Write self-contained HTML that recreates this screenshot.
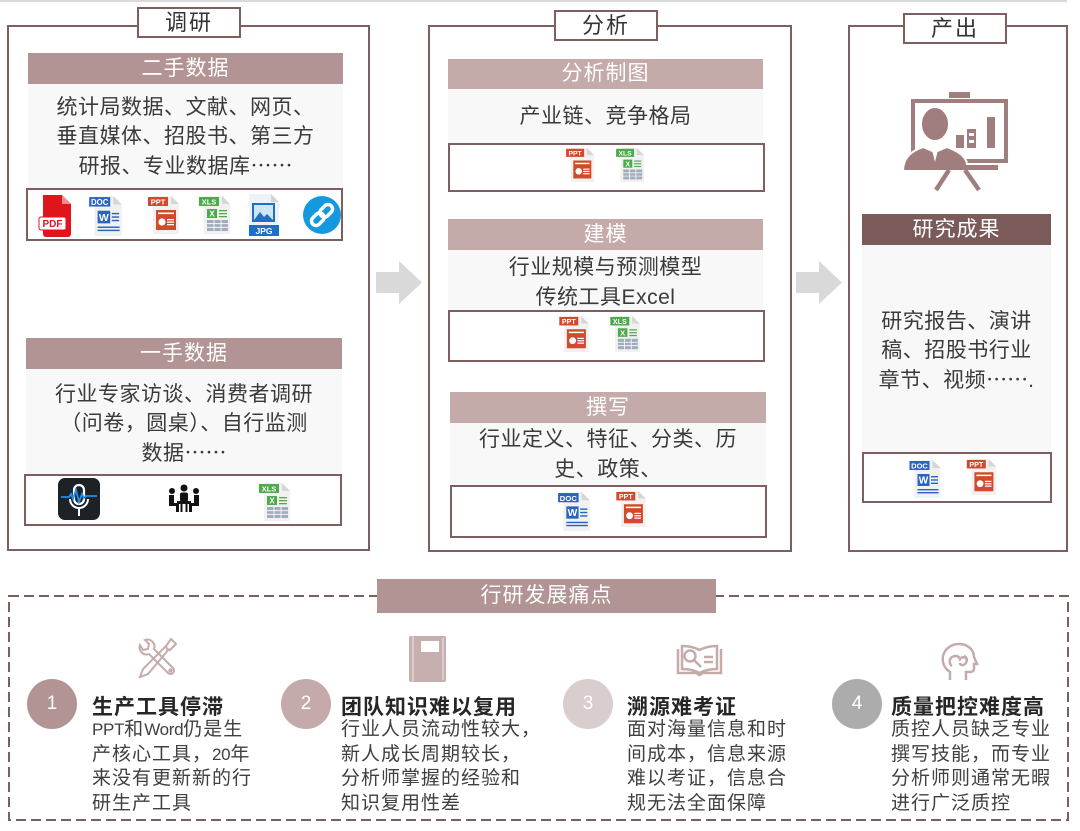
<!DOCTYPE html>
<html><head><meta charset="utf-8">
<style>
*{margin:0;padding:0;box-sizing:border-box}
body{width:1080px;height:831px;background:#fff;position:relative;overflow:hidden;font-family:"Liberation Sans","Noto Sans CJK SC",sans-serif;color:#3c3c3c}
.panel{position:absolute;border:2px solid #7d5f5f;background:#fff}
.tab{position:absolute;border:2px solid #7d5f5f;background:#fff;text-align:center;font-size:22px;color:#333;letter-spacing:2px}
.hd{position:absolute;color:#fff;text-align:center;font-size:21px;letter-spacing:1px}
.tx{position:absolute;background:#f8f8f8;text-align:center;font-size:21px;line-height:29px;color:#3a3a3a;letter-spacing:0.5px}
.ib{position:absolute;border:2px solid #7d5f5f;background:#fff}
.ic{position:absolute}
.ttl{position:absolute;font-size:21px;font-weight:bold;color:#262626;line-height:26px;letter-spacing:1px;white-space:nowrap}
.bd{position:absolute;font-size:19px;line-height:24.7px;color:#404040;letter-spacing:1px;white-space:nowrap}
.la{letter-spacing:-0.3px;font-size:17px}
.el{font-family:"Noto Sans CJK SC",sans-serif;letter-spacing:0}
.num{position:absolute;width:50px;height:50px;border-radius:50%;color:#fff;font-size:19px;text-align:center;line-height:50px}
</style></head><body>

<div style="position:absolute;left:0;top:0;width:1067px;height:2px;background:#dadada"></div>

<!-- Panel 1 -->
<div class="panel" style="left:7px;top:25px;width:363px;height:526px"></div>
<div class="tab" style="left:137px;top:7px;width:104px;height:31px;line-height:27px">调研</div>
<div class="hd" style="left:28px;top:53px;width:315px;height:31px;line-height:31px;background:#b39494">二手数据</div>
<div class="tx" style="left:28px;top:84px;width:315px;height:104px;padding-top:9px">统计局数据、文献、网页、<br>垂直媒体、招股书、第三方<br>研报、专业数据库<span class="el">……</span></div>
<div class="ib" style="left:26px;top:188px;width:317px;height:53px"></div>
<!-- PDF -->
<svg class="ic" style="left:38px;top:193px" width="36" height="44" viewBox="0 0 36 44"><path d="M5 2h19l9 9v30a3 3 0 0 1-3 3H8a3 3 0 0 1-3-3z" fill="#e0141b"/><path d="M24 2v9h9z" fill="#f58a8d"/><rect x="1" y="24" width="27" height="13" rx="2" fill="#fff" stroke="#e0141b" stroke-width="1"/><text x="14.5" y="34.2" font-size="10" font-weight="bold" fill="#e0141b" text-anchor="middle" font-family="Liberation Sans">PDF</text></svg>
<!-- DOC -->
<svg class="ic" style="left:88px;top:195px" width="36" height="42" viewBox="0 0 34 40"><path d="M6 1h18l8 8v30H6z" fill="#f1f1f1"/><path d="M24 1v8h8z" fill="#d6d6d6"/><rect x="1" y="2" width="20" height="9" fill="#2b63c0"/><text x="11" y="9.6" font-size="7.5" font-weight="bold" fill="#fff" text-anchor="middle" font-family="Liberation Sans">DOC</text><rect x="9" y="15" width="12" height="12" fill="#2b63c0"/><text x="15" y="24.6" font-size="10" font-weight="bold" fill="#fff" text-anchor="middle" font-family="Liberation Sans">W</text><rect x="22.5" y="17" width="7" height="1.4" fill="#2b63c0"/><rect x="22.5" y="20.3" width="7" height="1.4" fill="#2b63c0"/><rect x="22.5" y="23.6" width="7" height="1.4" fill="#2b63c0"/><rect x="9" y="30" width="21" height="1.4" fill="#2b63c0"/><rect x="9" y="33" width="21" height="1.4" fill="#2b63c0"/></svg>
<!-- PPT -->
<svg class="ic" style="left:147px;top:195px" width="34" height="40" viewBox="0 0 34 40"><path d="M6 1h18l8 8v30H6z" fill="#f1f1f1"/><path d="M24 1v8h8z" fill="#d6d6d6"/><rect x="1" y="2" width="20" height="9" fill="#d04a2b"/><text x="11" y="9.6" font-size="7.5" font-weight="bold" fill="#fff" text-anchor="middle" font-family="Liberation Sans">PPT</text><rect x="9" y="15" width="20" height="20" fill="#d04a2b"/><rect x="11" y="17.5" width="16" height="1.6" fill="#fff"/><circle cx="15" cy="27" r="3.6" fill="#fff"/><rect x="20" y="24" width="7" height="1.3" fill="#fff"/><rect x="20" y="26.5" width="7" height="1.3" fill="#fff"/><rect x="20" y="29" width="7" height="1.3" fill="#fff"/></svg>
<!-- XLS -->
<svg class="ic" style="left:198px;top:195px" width="34" height="40" viewBox="0 0 34 40"><path d="M6 1h18l8 8v30H6z" fill="#f1f1f1"/><path d="M24 1v8h8z" fill="#d6d6d6"/><rect x="1" y="2" width="20" height="9" fill="#4eaa4a"/><text x="11" y="9.6" font-size="7.5" font-weight="bold" fill="#fff" text-anchor="middle" font-family="Liberation Sans">XLS</text><rect x="9" y="14" width="10" height="9" fill="#4eaa4a"/><text x="14" y="21.5" font-size="8" font-weight="bold" fill="#fff" text-anchor="middle" font-family="Liberation Sans">X</text><rect x="21" y="15" width="8" height="1.3" fill="#4eaa4a"/><rect x="21" y="18" width="8" height="1.3" fill="#4eaa4a"/><rect x="21" y="21" width="8" height="1.3" fill="#4eaa4a"/><rect x="9" y="25" width="21" height="11" fill="#a3acbd"/><path d="M9 28.7h21M9 32.3h21M16 25v11M23 25v11" stroke="#fff" stroke-width="0.8"/></svg>
<!-- JPG -->
<svg class="ic" style="left:248px;top:193px" width="32" height="44" viewBox="0 0 32 44"><path d="M1 1h22l8 8v34H1z" fill="#eef1f5"/><path d="M23 1v8h8z" fill="#d0d5dc"/><rect x="4" y="10" width="23" height="19" fill="#1f6fc5"/><rect x="6" y="12" width="19" height="15" fill="#cfe6f7"/><path d="M6 27l6-8 4 5 3-3 6 6z" fill="#1f6fc5"/><rect x="1" y="32" width="30" height="11" fill="#1f6fc5"/><text x="16" y="41" font-size="8.5" font-weight="bold" fill="#fff" text-anchor="middle" font-family="Liberation Sans">JPG</text></svg>
<!-- link -->
<svg class="ic" style="left:302px;top:195px" width="40" height="40" viewBox="0 0 40 40"><circle cx="20" cy="20" r="19" fill="#1499df"/><g transform="rotate(-45 20 20)" fill="none" stroke="#fff" stroke-width="3.5"><rect x="7" y="15.5" width="14" height="9" rx="4.5"/><rect x="19" y="15.5" width="14" height="9" rx="4.5"/></g></svg>

<div class="hd" style="left:26px;top:338px;width:316px;height:31px;line-height:31px;background:#b39494">一手数据</div>
<div class="tx" style="left:26px;top:369px;width:316px;height:105px;padding-top:11px">行业专家访谈、消费者调研<br>（问卷，圆桌）、自行监测<br>数据<span class="el">……</span></div>
<div class="ib" style="left:24px;top:474px;width:318px;height:52px"></div>
<!-- mic -->
<svg class="ic" style="left:58px;top:478px" width="42" height="42" viewBox="0 0 42 42"><rect width="42" height="42" rx="7" fill="#1e2227"/><rect x="16" y="7" width="10" height="19" rx="5" fill="none" stroke="#fff" stroke-width="2.2"/><path d="M12 21a9 9 0 0 0 18 0" fill="none" stroke="#fff" stroke-width="2"/><path d="M21 30v8" stroke="#fff" stroke-width="2"/><path d="M3 19h8l2-3 2 5 3-9 3 12 3-8 2 4 2-2h11" fill="none" stroke="#1f8ff0" stroke-width="1.8"/></svg>
<!-- people -->
<svg class="ic" style="left:168px;top:484px" width="32" height="28" viewBox="0 0 32 28" fill="#111"><circle cx="16" cy="4" r="3.5"/><rect x="12" y="8.5" width="8" height="9" rx="2"/><circle cx="4" cy="7" r="3"/><circle cx="28" cy="7" r="3"/><path d="M1 11h5v8h5v9H8v-6H1z"/><path d="M31 11h-5v8h-5v9h3v-6h7z"/><rect x="9" y="17" width="14" height="3"/><rect x="12.5" y="20" width="2" height="8"/><rect x="17.5" y="20" width="2" height="8"/></svg>
<!-- XLS -->
<svg class="ic" style="left:258px;top:482px" width="34" height="40" viewBox="0 0 34 40"><path d="M6 1h18l8 8v30H6z" fill="#f1f1f1"/><path d="M24 1v8h8z" fill="#d6d6d6"/><rect x="1" y="2" width="20" height="9" fill="#4eaa4a"/><text x="11" y="9.6" font-size="7.5" font-weight="bold" fill="#fff" text-anchor="middle" font-family="Liberation Sans">XLS</text><rect x="9" y="14" width="10" height="9" fill="#4eaa4a"/><text x="14" y="21.5" font-size="8" font-weight="bold" fill="#fff" text-anchor="middle" font-family="Liberation Sans">X</text><rect x="21" y="15" width="8" height="1.3" fill="#4eaa4a"/><rect x="21" y="18" width="8" height="1.3" fill="#4eaa4a"/><rect x="21" y="21" width="8" height="1.3" fill="#4eaa4a"/><rect x="9" y="25" width="21" height="11" fill="#a3acbd"/><path d="M9 28.7h21M9 32.3h21M16 25v11M23 25v11" stroke="#fff" stroke-width="0.8"/></svg>

<!-- arrows -->
<svg class="ic" style="left:370px;top:255px" width="60" height="56" viewBox="370 255 60 56"><polygon points="376,272 399,272 399,261 422,282.5 399,304 399,293 376,293" fill="#d9d9d9"/></svg>
<svg class="ic" style="left:790px;top:255px" width="60" height="56" viewBox="790 255 60 56"><polygon points="796,272 819,272 819,261 842,282.5 819,304 819,293 796,293" fill="#d9d9d9"/></svg>

<!-- Panel 2 -->
<div class="panel" style="left:428px;top:25px;width:364px;height:527px"></div>
<div class="tab" style="left:554px;top:10px;width:104px;height:31px;line-height:27px">分析</div>
<div class="hd" style="left:448px;top:59px;width:315px;height:30px;line-height:30px;background:#c5aaaa">分析制图</div>
<div class="tx" style="left:448px;top:89px;width:315px;height:54px;padding-top:13px">产业链、竞争格局</div>
<div class="ib" style="left:448px;top:143px;width:317px;height:49px"></div>
<svg class="ic" style="left:565px;top:147px" width="31" height="36" viewBox="0 0 34 40"><path d="M6 1h18l8 8v30H6z" fill="#f1f1f1"/><path d="M24 1v8h8z" fill="#d6d6d6"/><rect x="1" y="2" width="20" height="9" fill="#d04a2b"/><text x="11" y="9.6" font-size="7.5" font-weight="bold" fill="#fff" text-anchor="middle" font-family="Liberation Sans">PPT</text><rect x="9" y="15" width="20" height="20" fill="#d04a2b"/><rect x="11" y="17.5" width="16" height="1.6" fill="#fff"/><circle cx="15" cy="27" r="3.6" fill="#fff"/><rect x="20" y="24" width="7" height="1.3" fill="#fff"/><rect x="20" y="26.5" width="7" height="1.3" fill="#fff"/><rect x="20" y="29" width="7" height="1.3" fill="#fff"/></svg>
<svg class="ic" style="left:615px;top:147px" width="31" height="36" viewBox="0 0 34 40"><path d="M6 1h18l8 8v30H6z" fill="#f1f1f1"/><path d="M24 1v8h8z" fill="#d6d6d6"/><rect x="1" y="2" width="20" height="9" fill="#4eaa4a"/><text x="11" y="9.6" font-size="7.5" font-weight="bold" fill="#fff" text-anchor="middle" font-family="Liberation Sans">XLS</text><rect x="9" y="14" width="10" height="9" fill="#4eaa4a"/><text x="14" y="21.5" font-size="8" font-weight="bold" fill="#fff" text-anchor="middle" font-family="Liberation Sans">X</text><rect x="21" y="15" width="8" height="1.3" fill="#4eaa4a"/><rect x="21" y="18" width="8" height="1.3" fill="#4eaa4a"/><rect x="21" y="21" width="8" height="1.3" fill="#4eaa4a"/><rect x="9" y="25" width="21" height="11" fill="#a3acbd"/><path d="M9 28.7h21M9 32.3h21M16 25v11M23 25v11" stroke="#fff" stroke-width="0.8"/></svg>

<div class="hd" style="left:448px;top:219px;width:315px;height:31px;line-height:31px;background:#c5aaaa">建模</div>
<div class="tx" style="left:448px;top:250px;width:315px;height:60px;padding-top:3px;line-height:30px">行业规模与预测模型<br>传统工具Excel</div>
<div class="ib" style="left:448px;top:310px;width:317px;height:52px"></div>
<svg class="ic" style="left:558px;top:315px" width="33" height="38" viewBox="0 0 34 40"><path d="M6 1h18l8 8v30H6z" fill="#f1f1f1"/><path d="M24 1v8h8z" fill="#d6d6d6"/><rect x="1" y="2" width="20" height="9" fill="#d04a2b"/><text x="11" y="9.6" font-size="7.5" font-weight="bold" fill="#fff" text-anchor="middle" font-family="Liberation Sans">PPT</text><rect x="9" y="15" width="20" height="20" fill="#d04a2b"/><rect x="11" y="17.5" width="16" height="1.6" fill="#fff"/><circle cx="15" cy="27" r="3.6" fill="#fff"/><rect x="20" y="24" width="7" height="1.3" fill="#fff"/><rect x="20" y="26.5" width="7" height="1.3" fill="#fff"/><rect x="20" y="29" width="7" height="1.3" fill="#fff"/></svg>
<svg class="ic" style="left:609px;top:315px" width="33" height="38" viewBox="0 0 34 40"><path d="M6 1h18l8 8v30H6z" fill="#f1f1f1"/><path d="M24 1v8h8z" fill="#d6d6d6"/><rect x="1" y="2" width="20" height="9" fill="#4eaa4a"/><text x="11" y="9.6" font-size="7.5" font-weight="bold" fill="#fff" text-anchor="middle" font-family="Liberation Sans">XLS</text><rect x="9" y="14" width="10" height="9" fill="#4eaa4a"/><text x="14" y="21.5" font-size="8" font-weight="bold" fill="#fff" text-anchor="middle" font-family="Liberation Sans">X</text><rect x="21" y="15" width="8" height="1.3" fill="#4eaa4a"/><rect x="21" y="18" width="8" height="1.3" fill="#4eaa4a"/><rect x="21" y="21" width="8" height="1.3" fill="#4eaa4a"/><rect x="9" y="25" width="21" height="11" fill="#a3acbd"/><path d="M9 28.7h21M9 32.3h21M16 25v11M23 25v11" stroke="#fff" stroke-width="0.8"/></svg>

<div class="hd" style="left:450px;top:392px;width:316px;height:31px;line-height:31px;background:#c5aaaa">撰写</div>
<div class="tx" style="left:450px;top:423px;width:316px;height:62px;padding-top:2px;line-height:30px">行业定义、特征、分类、历<br>史、政策、</div>
<div class="ib" style="left:450px;top:485px;width:317px;height:53px"></div>
<svg class="ic" style="left:557px;top:491px" width="35" height="41" viewBox="0 0 34 40"><path d="M6 1h18l8 8v30H6z" fill="#f1f1f1"/><path d="M24 1v8h8z" fill="#d6d6d6"/><rect x="1" y="2" width="20" height="9" fill="#2b63c0"/><text x="11" y="9.6" font-size="7.5" font-weight="bold" fill="#fff" text-anchor="middle" font-family="Liberation Sans">DOC</text><rect x="9" y="15" width="12" height="12" fill="#2b63c0"/><text x="15" y="24.6" font-size="10" font-weight="bold" fill="#fff" text-anchor="middle" font-family="Liberation Sans">W</text><rect x="22.5" y="17" width="7" height="1.4" fill="#2b63c0"/><rect x="22.5" y="20.3" width="7" height="1.4" fill="#2b63c0"/><rect x="22.5" y="23.6" width="7" height="1.4" fill="#2b63c0"/><rect x="9" y="30" width="21" height="1.4" fill="#2b63c0"/><rect x="9" y="33" width="21" height="1.4" fill="#2b63c0"/></svg>
<svg class="ic" style="left:615px;top:490px" width="33" height="38" viewBox="0 0 34 40"><path d="M6 1h18l8 8v30H6z" fill="#f1f1f1"/><path d="M24 1v8h8z" fill="#d6d6d6"/><rect x="1" y="2" width="20" height="9" fill="#d04a2b"/><text x="11" y="9.6" font-size="7.5" font-weight="bold" fill="#fff" text-anchor="middle" font-family="Liberation Sans">PPT</text><rect x="9" y="15" width="20" height="20" fill="#d04a2b"/><rect x="11" y="17.5" width="16" height="1.6" fill="#fff"/><circle cx="15" cy="27" r="3.6" fill="#fff"/><rect x="20" y="24" width="7" height="1.3" fill="#fff"/><rect x="20" y="26.5" width="7" height="1.3" fill="#fff"/><rect x="20" y="29" width="7" height="1.3" fill="#fff"/></svg>

<!-- Panel 3 -->
<div class="panel" style="left:848px;top:25px;width:220px;height:527px"></div>
<div class="tab" style="left:903px;top:13px;width:104px;height:31px;line-height:27px">产出</div>
<svg class="ic" style="left:903px;top:92px" width="106" height="100" viewBox="0 0 106 100" fill="#a07e7e">
<rect x="46" y="0" width="21" height="6"/>
<rect x="10" y="9" width="93" height="60" fill="none" stroke="#a07e7e" stroke-width="4"/>
<ellipse cx="32" cy="32" rx="14" ry="17" stroke="#fff" stroke-width="2"/>
<path d="M0 79 C0 65 9 59 20 55 L32 60 L44 55 C55 59 63 64 64 72 L96 72 L96 79 Z" stroke="#fff" stroke-width="2"/>
<path d="M29 58 L32 70 L35 58 Z" fill="#fff"/>
<rect x="53" y="43" width="8" height="13"/>
<rect x="64" y="37" width="9" height="19"/>
<rect x="66" y="41" width="5" height="3" fill="#fff"/><rect x="66" y="48" width="5" height="3" fill="#fff"/>
<rect x="84" y="25" width="8" height="31"/>
<path d="M46 78 L33 98 M62 78 L76 98" stroke="#a07e7e" stroke-width="4.5"/>
</svg>
<div class="hd" style="left:862px;top:214px;width:189px;height:31px;line-height:31px;background:#7b5a5a">研究成果</div>
<div class="tx" style="left:862px;top:245px;width:189px;height:207px;padding-top:62px">研究报告、演讲<br>稿、招股书行业<br>章节、视频<span class="el">……</span>.</div>
<div class="ib" style="left:862px;top:452px;width:190px;height:51px"></div>
<svg class="ic" style="left:908px;top:459px" width="35" height="40" viewBox="0 0 34 40"><path d="M6 1h18l8 8v30H6z" fill="#f1f1f1"/><path d="M24 1v8h8z" fill="#d6d6d6"/><rect x="1" y="2" width="20" height="9" fill="#2b63c0"/><text x="11" y="9.6" font-size="7.5" font-weight="bold" fill="#fff" text-anchor="middle" font-family="Liberation Sans">DOC</text><rect x="9" y="15" width="12" height="12" fill="#2b63c0"/><text x="15" y="24.6" font-size="10" font-weight="bold" fill="#fff" text-anchor="middle" font-family="Liberation Sans">W</text><rect x="22.5" y="17" width="7" height="1.4" fill="#2b63c0"/><rect x="22.5" y="20.3" width="7" height="1.4" fill="#2b63c0"/><rect x="22.5" y="23.6" width="7" height="1.4" fill="#2b63c0"/><rect x="9" y="30" width="21" height="1.4" fill="#2b63c0"/><rect x="9" y="33" width="21" height="1.4" fill="#2b63c0"/></svg>
<svg class="ic" style="left:965px;top:458px" width="34" height="38" viewBox="0 0 34 40"><path d="M6 1h18l8 8v30H6z" fill="#f1f1f1"/><path d="M24 1v8h8z" fill="#d6d6d6"/><rect x="1" y="2" width="20" height="9" fill="#d04a2b"/><text x="11" y="9.6" font-size="7.5" font-weight="bold" fill="#fff" text-anchor="middle" font-family="Liberation Sans">PPT</text><rect x="9" y="15" width="20" height="20" fill="#d04a2b"/><rect x="11" y="17.5" width="16" height="1.6" fill="#fff"/><circle cx="15" cy="27" r="3.6" fill="#fff"/><rect x="20" y="24" width="7" height="1.3" fill="#fff"/><rect x="20" y="26.5" width="7" height="1.3" fill="#fff"/><rect x="20" y="29" width="7" height="1.3" fill="#fff"/></svg>

<!-- Bottom dashed box -->
<svg class="ic" style="left:0;top:585px" width="1080" height="246" viewBox="0 585 1080 246"><rect x="9" y="596" width="1059" height="224" fill="none" stroke="#7d5f5f" stroke-width="2" stroke-dasharray="10 5"/></svg>
<div class="hd" style="left:377px;top:579px;width:339px;height:34px;line-height:34px;background:#b39494">行研发展痛点</div>

<!-- bottom icons -->
<svg class="ic" style="left:134px;top:636px" width="45" height="46" viewBox="0 0 45 46" fill="none" stroke="#c6abab" stroke-width="2">
<path d="M6 9 a7 7 0 0 0 9 9 L34 37 a3 3 0 0 0 5 -5 L20 13 a7 7 0 0 0 -9 -9 l4 4 -1 5 -5 1z"/>
<circle cx="36.5" cy="34.5" r="1.2"/>
<path d="M37 3 l5 5 -6 6 -3 -1 -1 -3z"/>
<path d="M32 10 L9 33 l-3 8 8 -3 L35 13"/>
</svg>
<svg class="ic" style="left:409px;top:636px" width="37" height="46" viewBox="0 0 37 46"><rect x="0" y="0" width="37" height="46" rx="2" fill="#c8afaf"/><rect x="3" y="0" width="2" height="46" fill="#dccccc"/><rect x="33" y="2" width="2" height="42" fill="#dccccc"/><rect x="12" y="5" width="18" height="11" fill="#fff"/></svg>
<svg class="ic" style="left:676px;top:643px" width="47" height="34" viewBox="0 0 47 34" fill="none" stroke="#c6abab" stroke-width="2.5">
<path d="M2 6 V30 H20 c1 0 2 2 3.5 2 s2.5 -2 3.5 -2 H45 V6"/>
<path d="M6 3 c6 0 12 1 17.5 4 c5.5 -3 11.5 -4 17.5 -4 v23 c-6 0 -12 1 -17.5 4 c-5.5 -3 -11.5 -4 -17.5 -4z"/>
<circle cx="14" cy="13" r="5.5"/>
<path d="M18 17 L25 24"/>
<path d="M28 14 h9 M28 19 h9"/>
</svg>
<svg class="ic" style="left:940px;top:642px" width="40" height="40" viewBox="0 0 40 40" fill="none" stroke="#c6abab" stroke-width="2.5">
<path d="M10 38 v-8 c-6 -4 -8 -10 -7 -16 c2 -8 9 -12 16 -12 c9 0 15 6 15 13 l3 7 h-3 v5 c0 2 -2 3 -4 3 h-4 v8"/>
<path d="M12 24 c-3 -2 -3 -7 0 -9 c3 -2 7 -1 8 2 c2 -3 7 -2 7 2"/>
<path d="M24 14 c3 1 4 5 1 8 c-2 2 -5 1 -5 -1"/>
</svg>

<!-- numbers -->
<div class="num" style="left:27px;top:679px;background:#b39494">1</div>
<div class="num" style="left:281px;top:679px;background:#c5aaaa">2</div>
<div class="num" style="left:563px;top:679px;background:#d9cdcd">3</div>
<div class="num" style="left:832px;top:679px;background:#acacac">4</div>

<div class="ttl" style="left:92px;top:695px">生产工具停滞</div>
<div class="bd" style="left:92px;top:718px"><span class="la">PPT</span>和<span class="la">Word</span>仍是生<br>产核心工具，<span class="la">20</span>年<br>来没有更新新的行<br>研生产工具</div>

<div class="ttl" style="left:341px;top:695px">团队知识难以复用</div>
<div class="bd" style="left:341px;top:718px">行业人员流动性较大，<br>新人成长周期较长，<br>分析师掌握的经验和<br>知识复用性差</div>

<div class="ttl" style="left:627px;top:695px">溯源难考证</div>
<div class="bd" style="left:627px;top:718px">面对海量信息和时<br>间成本，信息来源<br>难以考证，信息合<br>规无法全面保障</div>

<div class="ttl" style="left:891px;top:695px">质量把控难度高</div>
<div class="bd" style="left:891px;top:718px">质控人员缺乏专业<br>撰写技能，而专业<br>分析师则通常无暇<br>进行广泛质控</div>

</body></html>
